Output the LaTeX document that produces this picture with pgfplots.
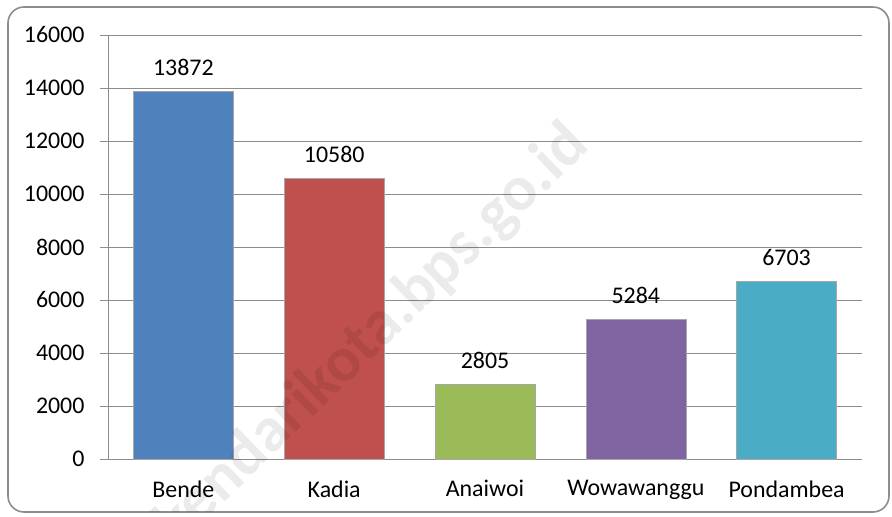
\documentclass[border=0pt]{standalone}
\usepackage{pgfplots}
\pgfplotsset{compat=1.18}
\usepackage{fontspec}
\setmainfont{Carlito}
\definecolor{cblue}{HTML}{4F81BD}
\definecolor{cred}{HTML}{C0504D}
\definecolor{cgreen}{HTML}{9BBB59}
\definecolor{cpurple}{HTML}{8064A2}
\definecolor{caqua}{HTML}{4BACC6}
\definecolor{gridc}{HTML}{8C8C8C}
\begin{document}
\begin{tikzpicture}[x=1bp,y=1bp]
\useasboundingbox (-108,-58) rectangle (784,459);
\draw[gridc, line width=1.6bp, rounded corners=16bp] (-100,-53) rectangle (781,452);
\begin{axis}[
  at={(0,0)}, anchor=south west,
  scale only axis, width=754bp, height=424bp,
  ymin=0, ymax=16000, ytick distance=2000,
  scaled y ticks=false,
  xmin=-0.5, xmax=4.5,
  xtick={0,1,2,3,4},
  xticklabels={Bende,Kadia,Anaiwoi,Wowawanggu,Pondambea},
  major x tick style={draw=none},
  extra x ticks={-0.5,0.5,1.5,2.5,3.5,4.5},
  extra x tick labels={},
  extra x tick style={grid=none, major tick length=8bp, tick align=outside, xticklabel style={opacity=0}},
  ymajorgrids, grid style={gridc, line width=0.9bp},
  axis x line*=bottom, axis y line*=left,
  axis line style={gridc, line width=0.9bp, -},
  tick style={gridc, line width=0.9bp},
  tick align=outside, major tick length=8bp,
  tick label style={font=\fontsize{24}{28}\selectfont, text=black},
  /pgf/number format/.cd, 1000 sep={}, assume math mode=true,
  /pgfplots/.cd,
  yticklabel style={xshift=-12bp},
  xticklabel style={yshift=-10bp},
  ybar, bar width=100bp, bar shift=0pt,
  nodes near coords,
  nodes near coords style={font=\fontsize{24}{28}\selectfont, text=black, yshift=12bp},
  clip=false,
]
\addplot[fill=cblue, draw=black!35, line width=0.6bp] coordinates {(0,13872)};
\addplot[fill=cred, draw=black!35, line width=0.6bp] coordinates {(1,10580)};
\addplot[fill=cgreen, draw=black!35, line width=0.6bp] coordinates {(2,2805)};
\addplot[fill=cpurple, draw=black!35, line width=0.6bp] coordinates {(3,5284)};
\addplot[fill=caqua, draw=black!35, line width=0.6bp] coordinates {(4,6703)};
\end{axis}
\begin{scope}
\clip (-100,-53) rectangle (781,452);
\node[rotate=44, text=black, opacity=0.08, font=\fontsize{64}{72}\selectfont\bfseries] at (265,124) {kendarikota.bps.go.id};
\end{scope}
\end{tikzpicture}
\end{document}
